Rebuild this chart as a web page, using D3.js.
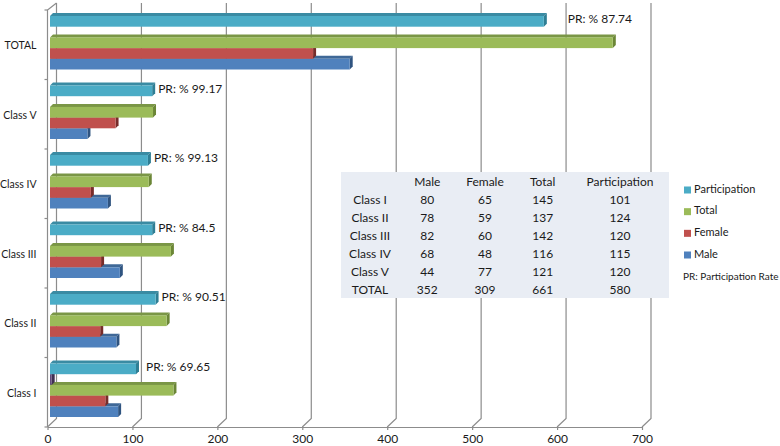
<!DOCTYPE html>
<html><head><meta charset="utf-8">
<script src="https://cdn.jsdelivr.net/npm/d3@7/dist/d3.min.js"></script>
<style>
html,body{margin:0;padding:0;background:#fff;}
svg{display:block;}
text{font-family:Lato,"Open Sans",sans-serif;fill:#1a1a1a;}
</style></head><body>
<script>
const categories = ["Class I","Class II","Class III","Class IV","Class V","TOTAL"];
const male = [80,78,82,68,44,352];
const female = [65,59,60,48,77,309];
const total = [145,137,142,116,121,661];
const rate = [2,0,0,0,0,0];
const participation = [101,124,120,115,120,580];
const prLabels = ["PR: % 69.65","PR: % 90.51","PR: % 84.5","PR: % 99.13","PR: % 99.17","PR: % 87.74"];
const xTicks = [0,100,200,300,400,500,600,700];
const seriesNames = ["Male","Female","Total","Rate","Participation"];
const seriesValues = [male,female,total,rate,participation];
const colors = {
  Male:{f:"#4f81bd",t:"#3f6897",s:"#2f5480"},
  Female:{f:"#c0504d",t:"#8f3b39",s:"#772c2a"},
  Total:{f:"#9bbb59",t:"#7a9646",s:"#6b8636"},
  Rate:{f:"#604a7b",t:"#4a3960",s:"#3f3052"},
  Participation:{f:"#4bacc6",t:"#3a8ba3",s:"#2f7e94"}
};
const legendNames = ["Participation","Total","Female","Male"];
const tableHead = ["","Male","Female","Total","Participation"];
const prNote = "PR: Participation Rate";

const W=780,H=446, depth=9, barDepth=3;
const svg=d3.select("body").append("svg").attr("width",W).attr("height",H);
const GRID="#8c8c8c";

const x=d3.scaleLinear().domain([0,700]).range([47.5,642]);
const xBar=d3.scaleLinear().domain([0,700]).range([50,646]);
const y=d3.scaleBand().domain(categories).range([427,10]);
const inner=d3.scaleBand().domain(seriesNames.slice().reverse()).range([6,59.5]);

// back wall gridlines and floor diagonals
const grid=svg.append("g").attr("fill","none").attr("stroke",GRID).attr("stroke-width",1.2);
xTicks.forEach(t=>{
  grid.append("path").attr("d",d3.line()([[x(t),427],[x(t)+depth,418.5],[x(t)+depth,3]]));
});
// left axis
const leftAxis=svg.append("g").attr("fill","none").attr("stroke",GRID).attr("stroke-width",1.2);
leftAxis.append("path").attr("d",d3.line()([[x(0),427],[x(0),10],[x(0)+depth,3]]));
categories.forEach(c=>{
  leftAxis.append("line").attr("x1",x(0)-3).attr("x2",x(0)).attr("y1",y(c)+y.bandwidth()).attr("y2",y(c)+y.bandwidth());
});
leftAxis.append("line").attr("x1",x(0)-3).attr("x2",x(0)).attr("y1",10).attr("y2",10);

// bottom axis
const bottom=svg.append("g").attr("transform","translate(0,427)")
  .call(d3.axisBottom(x).tickValues(xTicks).tickSize(3).tickSizeOuter(0).tickPadding(4.5));
bottom.selectAll("path,line").attr("stroke",GRID).attr("stroke-width",1.2);
bottom.selectAll("text").attr("font-size",12).attr("font-family","Lato").attr("fill","#1a1a1a");

// category labels
const left=svg.append("g").attr("transform","translate(39.5,1)")
  .call(d3.axisLeft(y).tickSize(0).tickPadding(3));
left.select("path").remove();
left.selectAll("text").attr("font-size",10.5).attr("font-family","Lato").attr("fill","#1a1a1a");

// 3D bars: bottom series first so the upper bars sit over the top faces of the lower ones
const bars=svg.append("g");
categories.forEach((c,ci)=>{
  seriesNames.forEach((s,si)=>{
    const v=seriesValues[si][ci];
    if(!v) return;
    const col=colors[s];
    const top=y(c)+inner(s), h=inner.bandwidth(), x0=xBar(0), x1=xBar(v), d=barDepth;
    const g=bars.append("g");
    g.append("path").attr("fill",col.t).attr("d",d3.line()([[x0,top],[x0+d,top-d],[x1+d,top-d],[x1,top]])+"Z");
    g.append("path").attr("fill",col.s).attr("d",d3.line()([[x1,top],[x1+d,top-d],[x1+d,top+h-d],[x1,top+h]])+"Z");
    g.append("rect").attr("x",x0).attr("y",top).attr("width",x1-x0).attr("height",h).attr("fill",col.f);
  });
});

// participation-rate labels
const labelGap = c => c==="TOTAL" ? 21 : c==="Class I" ? 7 : 3;
categories.forEach((c,i)=>{
  svg.append("text").attr("x",xBar(participation[i])+barDepth+labelGap(c)).attr("y",y(c)+inner("Participation")+inner.bandwidth()/2-1)
    .attr("dominant-baseline","middle").attr("font-size",12).text(prLabels[i]);
});

// data table
const colCenters={"":370,"Male":427.3,"Female":485,"Total":542.7,"Participation":620};
const rowNames=["__head"].concat(categories);
const rowY=d3.scalePoint().domain(rowNames).range([182.8,290.8]);
const table=svg.append("g");
table.append("rect").attr("x",341).attr("y",172).attr("width",328).attr("height",126).attr("fill","#e9edf4");
const cols=[categories,male,female,total,participation];
tableHead.forEach((h,ci)=>{
  const cx=colCenters[h];
  if(h) table.append("text").attr("x",cx).attr("y",rowY("__head")).attr("text-anchor","middle").attr("dominant-baseline","middle").attr("font-size",12).text(h);
  categories.forEach((c,ri)=>{
    table.append("text").attr("x",cx).attr("y",rowY(c)).attr("text-anchor","middle").attr("dominant-baseline","middle").attr("font-size",12).text(cols[ci][ri]);
  });
});

// legend
const legendY=d3.scalePoint().domain(legendNames).range([190,255]);
const legend=svg.append("g");
legendNames.forEach(n=>{
  legend.append("rect").attr("x",684).attr("y",legendY(n)-3.5).attr("width",7).attr("height",7).attr("fill",colors[n].f);
  legend.append("text").attr("x",694).attr("y",legendY(n)).attr("dominant-baseline","middle").attr("font-size",11).text(n);
});
legend.append("text").attr("x",683).attr("y",277).attr("dominant-baseline","middle").attr("font-size",10).text(prNote);
</script>
</body></html>
